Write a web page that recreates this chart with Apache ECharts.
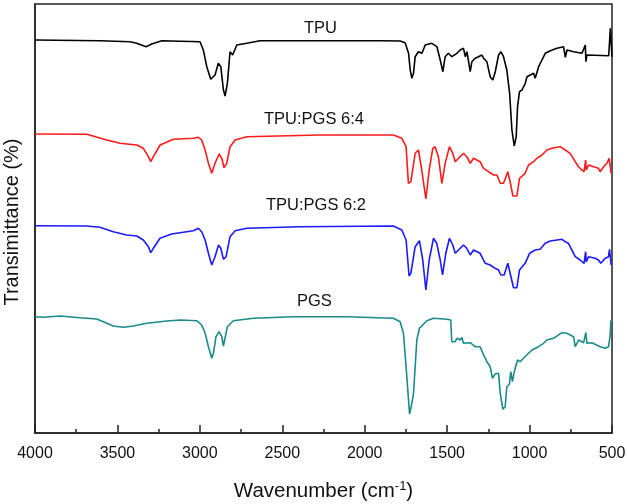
<!DOCTYPE html>
<html><head><meta charset="utf-8">
<script src="https://cdn.jsdelivr.net/npm/echarts@6/dist/echarts.min.js"></script>
<style>html,body{margin:0;padding:0;background:#fff}#c{width:628px;height:504px}</style>
</head><body><div id="c"></div>
<script>
// Tick labels
var xTicks = [4000, 3500, 3000, 2500, 2000, 1500, 1000, 500];
var seriesNames = ['TPU', 'TPU:PGS 6:4', 'TPU:PGS 6:2', 'PGS'];
var yTitle = 'Transimittance (%)';

// TPU (wavenumber, offset transmittance)
var tpuWn = [4000,3606,3424,3383,3326,3292,3231,2999,2979,2958,2934,2908,2888,2873,2857,2847,2833,2817,2801,2776,2716,2635,2513,1906,1785,1755,1734,1724,1714,1704,1694,1674,1653,1633,1593,1562,1542,1526,1512,1492,1471,1461,1441,1421,1401,1390,1380,1360,1350,1330,1310,1289,1279,1259,1239,1223,1208,1188,1174,1158,1138,1121,1107,1093,1081,1073,1061,1046,1026,1016,996,976,966,945,925,905,874,834,794,783,773,733,682,662,658,652,520,510,500];
var tpuT = [393,392.3,391.3,389.7,386.3,389,392.3,391.3,383,366.3,353.7,358,369.7,366.3,343,337,349.7,381.3,378,388,389.7,392.3,392.3,392.3,392,390.3,379.7,363,354.7,359.7,376.3,381.3,379.7,388,389.7,386.3,373,361.3,376.3,379.7,376.3,374.7,379.7,383,384.7,376.3,381.3,361.3,371.3,374.7,376.3,378,374.7,371.3,356.3,353,361.3,378,381.3,376.3,363,339.7,303,287,296.3,326.3,341.3,343,349.7,356.3,358,359.7,354.7,366.3,373,379.7,382.3,384.7,386.3,375.7,383,381.3,379.7,388,371.3,378,377.3,404.7,376.3];

// TPU:PGS 6:4
var pgs64Wn = [4000,3686,3565,3484,3383,3343,3312,3298,3282,3241,3161,3039,3009,2989,2968,2948,2928,2908,2883,2867,2853,2837,2817,2786,2716,2271,1826,1775,1749,1735,1720,1694,1674,1654,1629,1609,1587,1573,1553,1532,1512,1486,1466,1451,1431,1401,1381,1360,1340,1300,1279,1249,1219,1198,1178,1158,1132,1118,1101,1077,1061,1027,1006,976,956,925,895,865,814,784,754,723,703,683,669,660,656,642,612,582,572,551,531,517,505];
var pgs64T = [299,298.7,293,289.7,288,284.7,276.3,271.3,276.3,288,293.7,294.7,295.7,293,283,269.7,259.7,269.7,279,274.7,265.3,269.7,286.3,293,296.3,298,298,294.7,286.3,249.7,251.3,279.7,283,263,234,263,284.7,286.3,276.3,249.7,269.7,286.3,279.7,271.3,274.7,279.7,276.3,269.7,274.7,271.3,264.7,261.3,258,258,249.7,249.7,261.3,251.3,237,237,254.7,259.7,268,271.3,274.7,278,283,284.7,286.3,283,279.7,271.3,266.3,263,261.3,273,263,268,266.3,264.7,261.3,266.3,269.7,274.7,259.7];

// TPU:PGS 6:2
var pgs62Wn = [4000,3686,3606,3525,3444,3383,3343,3312,3298,3282,3242,3171,3039,3009,2989,2968,2948,2928,2908,2887,2873,2857,2841,2817,2786,2716,2392,1826,1775,1749,1731,1720,1694,1668,1648,1629,1609,1583,1563,1542,1528,1508,1486,1466,1451,1431,1401,1381,1360,1340,1300,1269,1239,1209,1188,1174,1154,1132,1118,1097,1077,1061,1027,1000,966,936,905,875,834,804,784,764,723,693,669,660,656,642,602,582,568,541,521,515,505];
var pgs62T = [207.3,207,205.7,201.3,198,197,193,186.3,180.3,184.7,194.7,199,202.3,204.7,201.3,193,179.7,168,176.3,188,184.7,173.7,176.3,196.3,202.3,204.7,206.3,207,203,193,157,159.7,186.3,192.3,173,143,173,194.7,189.7,173,158,179.7,194.7,188,179.7,183,188,184.7,178,183,179.7,169.7,168,164.7,163,158,158,169.7,159.7,145.3,145.3,163,169.7,179.7,183,183.7,189.7,192,193,193.7,191.3,189.7,176.3,173,169.7,181.3,171.3,176.3,174.7,173,169.7,174.7,176.3,183.7,168];

// PGS
var pgsWn = [4000,3949,3848,3727,3626,3585,3525,3464,3403,3322,3201,3120,3019,2989,2968,2948,2928,2918,2902,2883,2867,2857,2847,2833,2797,2675,2432,2109,1826,1785,1765,1749,1728,1714,1704,1694,1684,1668,1623,1583,1502,1478,1472,1451,1441,1421,1411,1401,1391,1360,1330,1300,1283,1259,1239,1225,1209,1188,1178,1162,1148,1138,1122,1114,1104,1093,1081,1073,1057,1037,986,946,915,895,855,804,774,733,723,703,672,659,652,622,572,541,521,511,507,501];
var pgsT = [116.3,115.7,117,115.3,114,111.3,107,105.7,107,109.7,112,113,112.3,108,99.7,86.3,74.7,79.7,96.3,101.3,96.3,87,88,106.3,112.3,114.7,116.3,116.3,114.7,111.3,99.7,66.3,19,29.7,39.7,66.3,93,104.7,112.3,114.7,113.7,113,91.3,91.3,94.7,93,95.7,89.7,88,90.3,86.3,86.3,79.7,71.3,66.3,54.7,59,59.7,39.7,23.7,26.3,46.3,49,61.3,51.3,61.3,59.7,73,71.3,74.7,83,86.3,89.7,93,94.7,100.3,99.7,96.3,86.3,93,90.3,100.3,89.7,90.3,86.3,84.7,86.3,98,112.3,112.3];

function zip(a, b) { return a.map(function (v, i) { return [v, b[i]]; }); }

var colors = ['#000000', '#ff1a1a', '#1a1aff', '#1a8a8a'];
var allWn = [tpuWn, pgs64Wn, pgs62Wn, pgsWn];
var allT = [tpuT, pgs64T, pgs62T, pgsT];

var chart = echarts.init(document.getElementById('c'), null, {renderer: 'canvas'});
var font = 'Liberation Sans, Arial, sans-serif';
var option = {
  animation: false,
  backgroundColor: '#ffffff',
  grid: {left: 35, right: 16, top: 4, bottom: 71, show: true, borderColor: '#222', borderWidth: 1.5,
    backgroundColor: 'transparent', containLabel: false, outerBoundsMode: 'none'},
  xAxis: {
    type: 'value', inverse: true, min: 500, max: 4000, interval: 500,
    name: 'Wavenumber (cm{sup|-1})', nameLocation: 'middle', nameGap: 47,
    nameTextStyle: {fontFamily: font, fontSize: 20.5, color: '#111',
      rich: {sup: {fontFamily: font, fontSize: 13, verticalAlign: 'top', padding: [0, 0, 10, 0], color: '#111'}}},
    axisLine: {onZero: false, lineStyle: {color: '#222', width: 1.5}},
    axisTick: {inside: true, length: 8, lineStyle: {color: '#222', width: 1.5}},
    minorTick: {show: true, splitNumber: 2, length: 4, lineStyle: {color: '#222', width: 1.5}},
    axisLabel: {fontFamily: font, fontSize: 16, color: '#111', margin: 13,
      formatter: function (v) { return xTicks.indexOf(v) >= 0 ? String(v) : ''; }},
    splitLine: {show: false}
  },
  yAxis: {
    type: 'value', min: 0, max: 429,
    axisLine: {show: true, lineStyle: {color: '#222', width: 1.5}},
    axisTick: {show: false}, axisLabel: {show: false}, splitLine: {show: false}
  },
  series: seriesNames.map(function (n, i) {
    return {
      name: n, type: 'line', data: zip(allWn[i], allT[i]), showSymbol: false, smooth: false,
      lineStyle: {color: colors[i], width: 1.6}, itemStyle: {color: colors[i]}
    };
  }),
  graphic: [
    {type: 'text', x: 12, y: 222, rotation: Math.PI / 2,
      style: {text: yTitle, font: '20px ' + font, fill: '#111', align: 'center', verticalAlign: 'middle'}},
    {type: 'text', left: 304, top: 20, style: {text: seriesNames[0], font: '16.5px ' + font, fill: '#111'}},
    {type: 'text', left: 264, top: 111, style: {text: seriesNames[1], font: '16.5px ' + font, fill: '#111'}},
    {type: 'text', left: 266, top: 197, style: {text: seriesNames[2], font: '16.5px ' + font, fill: '#111'}},
    {type: 'text', left: 297, top: 293, style: {text: seriesNames[3], font: '16.5px ' + font, fill: '#111'}}
  ]
};
chart.setOption(option);
</script>
</body></html>
